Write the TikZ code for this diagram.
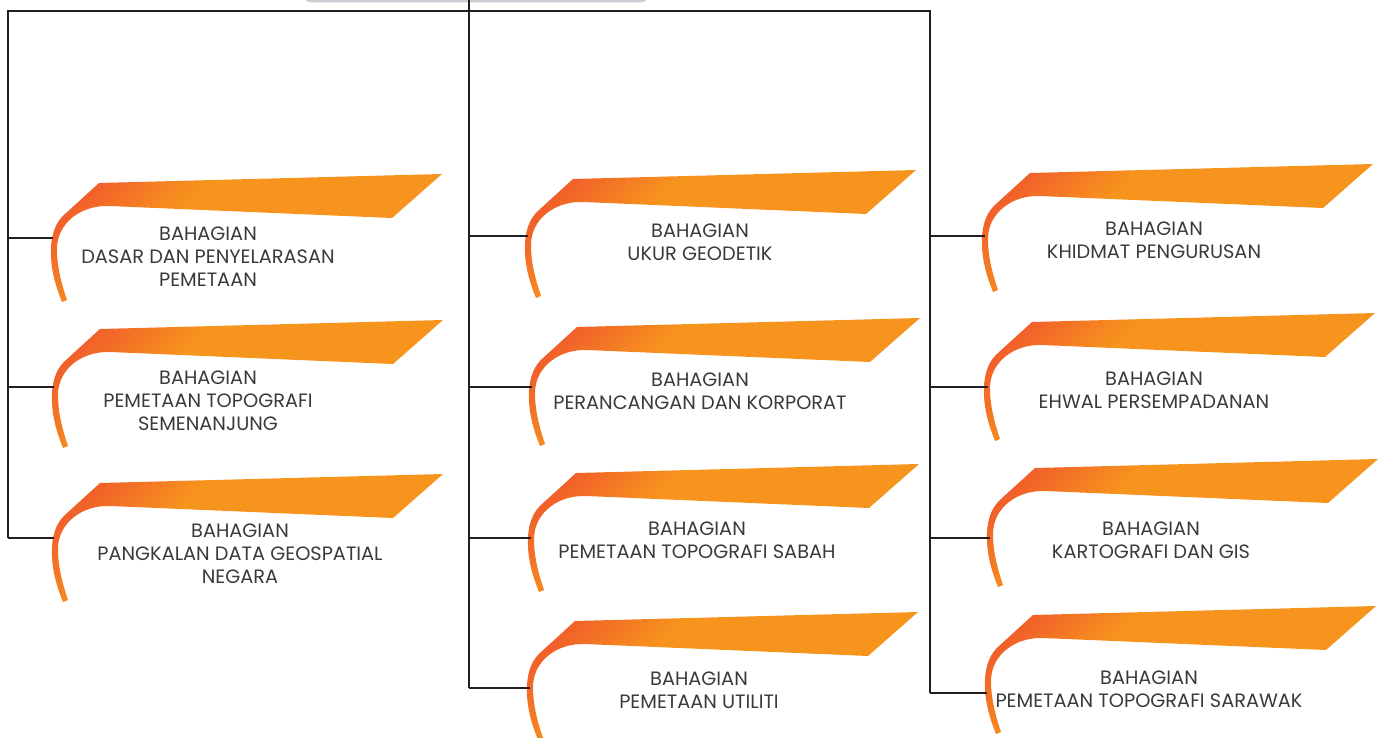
\documentclass[tikz,border=0pt]{standalone}
\usepackage{fontspec}
\setmainfont{Poppins}

\definecolor{pitamerah}{HTML}{F15F2A}
\definecolor{pitajingga}{HTML}{F7941D}
\definecolor{garis}{HTML}{231F20}
\definecolor{tulisan}{HTML}{3A3A3A}
\definecolor{kotak}{HTML}{CDCDD5}
\pgfdeclarehorizontalshading{pita}{100bp}{color(0bp)=(pitamerah); color(22bp)=(pitamerah); color(37bp)=(pitajingga); color(100bp)=(pitajingga)}

% orange ribbon, #1 = its top-left corner
\newcommand\pita[1]{%
  \shade[shading=pita, shading angle=-45, shift={#1}]
    (0, 0)--(343, -9)--(293, 35)--(10, 23)
    .. controls (-18, 22) and (-42, 40) .. (-42, 66)
    .. controls (-42, 85) and (-37, 102) .. (-32, 117)
    --(-37, 119)
    .. controls (-43, 104) and (-49, 86) .. (-48, 64)
    .. controls (-47, 48) and (-42, 38) .. (-34, 31)--cycle;}

\begin{document}
\begin{tikzpicture}[x=.02cm, y=-.02cm,
    line/.style={line width=1.5pt, color=garis},
    label/.style={align=center, text=tulisan, font=\fontsize{11}{13}\selectfont, inner sep=0pt}]
    \useasboundingbox (0, 0) rectangle (1382, 737);
    \fill[kotak, rounded corners=5pt](303, -30) rectangle (649, 2.5);
    \coordinate (ketua) at (469, 0);
    \coordinate (kiri) at (8, 11);
    \coordinate (tengah) at (469, 11);
    \coordinate (kanan) at (930, 11);

    % ribbons
    \pita{(99, 183)}
    \pita{(100, 329)}
    \pita{(100, 483)}
    \pita{(573, 179)}
    \pita{(577, 327)}
    \pita{(576, 473)}
    \pita{(575, 621)}
    \pita{(1030, 173)}
    \pita{(1032, 322)}
    \pita{(1035, 468)}
    \pita{(1033, 615)}

    % where the branches meet the ribbons
    \coordinate (dasar-in) at (53, 238);
    \coordinate (topo-in) at (54, 387);
    \coordinate (pangkalan-in) at (54, 538);
    \coordinate (geodetik-in) at (528, 236);
    \coordinate (korporat-in) at (532, 387);
    \coordinate (sabah-in) at (531, 538);
    \coordinate (utiliti-in) at (530, 688);
    \coordinate (khidmat-in) at (985, 236);
    \coordinate (ehwal-in) at (988, 387);
    \coordinate (kartografi-in) at (990, 538);
    \coordinate (sarawak-in) at (987, 693);

    \node[label] (dasar) at (208, 257){BAHAGIAN\\DASAR DAN PENYELARASAN\\PEMETAAN};
    \node[label] (topo) at (208, 401){BAHAGIAN\\PEMETAAN TOPOGRAFI\\SEMENANJUNG};
    \node[label] (pangkalan) at (240, 554){BAHAGIAN\\PANGKALAN DATA GEOSPATIAL\\NEGARA};
    \node[label] (geodetik) at (700, 242){BAHAGIAN\\UKUR GEODETIK};
    \node[label] (korporat) at (700, 391){BAHAGIAN\\PERANCANGAN DAN KORPORAT};
    \node[label] (sabah) at (697, 540){BAHAGIAN\\PEMETAAN TOPOGRAFI SABAH};
    \node[label] (utiliti) at (699, 690){BAHAGIAN\\PEMETAAN UTILITI};
    \node[label] (khidmat) at (1154, 240){BAHAGIAN\\KHIDMAT PENGURUSAN};
    \node[label] (ehwal) at (1154, 390){BAHAGIAN\\EHWAL PERSEMPADANAN};
    \node[label] (kartografi) at (1151, 540){BAHAGIAN\\KARTOGRAFI DAN GIS};
    \node[label] (sarawak) at (1149, 689){BAHAGIAN\\PEMETAAN TOPOGRAFI SARAWAK};

    % tree lines
    \draw[line](kiri |- pangkalan-in)--(kiri)--(kanan)--(kanan |- sarawak-in);
    \draw[line](ketua)--(tengah |- utiliti-in);
    \foreach \n in {dasar, topo, pangkalan}
        \draw[line](kiri |- \n-in)--(\n-in);
    \foreach \n in {geodetik, korporat, sabah, utiliti}
        \draw[line](tengah |- \n-in)--(\n-in);
    \foreach \n in {khidmat, ehwal, kartografi, sarawak}
        \draw[line](kanan |- \n-in)--(\n-in);
\end{tikzpicture}
\end{document}
